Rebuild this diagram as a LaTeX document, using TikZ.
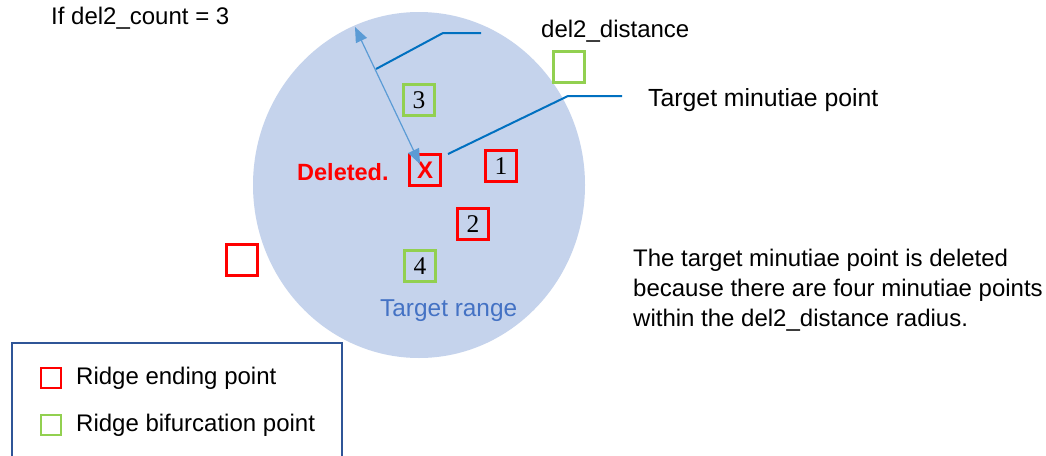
\documentclass[tikz,border=0pt]{standalone}
\usepackage{fontspec}
\setmainfont{Liberation Sans}
\newfontfamily\serifnum{Liberation Serif}
\usetikzlibrary{arrows.meta,shapes.geometric}
\definecolor{rangefill}{RGB}{197,211,236}
\definecolor{redpt}{RGB}{255,0,0}
\definecolor{greenpt}{RGB}{146,208,80}
\definecolor{arrowblue}{RGB}{91,155,213}
\definecolor{leaderblue}{RGB}{0,112,192}
\definecolor{rangetext}{RGB}{68,114,196}
\definecolor{legendframe}{RGB}{47,85,151}
\tikzset{
  txt/.style={font=\fontsize{24}{28}\selectfont, inner sep=0pt, anchor=west},
  ptbox/.style={draw, line width=3pt, minimum size=31pt, inner sep=0pt, font=\serifnum\fontsize{25.5}{28}\selectfont},
  endbox/.style={ptbox, draw=redpt},
  bifbox/.style={ptbox, draw=greenpt},
  legbox/.style={draw, line width=2pt, minimum size=20pt, inner sep=0pt},
  leader/.style={draw=leaderblue, line width=2pt},
}
\begin{document}
\begin{tikzpicture}[x=1pt,y=-1pt]
\useasboundingbox (0,0) rectangle (1046,455);
\fill[white] (0,0) rectangle (1046,455);
% target range
\node[ellipse, fill=rangefill, minimum width=332pt, minimum height=346pt, inner sep=0pt] (range) at (419,185) {};
\node[txt, text=rangetext, font=\fontsize{24.4}{28}\selectfont] (rangelbl) at (380,311) {Target range};
% points
\node[bifbox] (p3) at (419,100) {3};
\node[endbox, font=\bfseries\fontsize{24}{28}\selectfont, text=redpt] (px) at (425,170) {X};
\node[endbox] (p1) at (501,166) {1};
\node[endbox] (p2) at (473,224) {2};
\node[bifbox] (p4) at (420,266) {4};
\node[bifbox] (pout) at (569,67) {};
\node[endbox] (pout2) at (242,260) {};
% labels
\node[txt] (count) at (51,18) {If del2\_count = 3};
\node[txt] (dist) at (541,31) {del2\_distance};
\node[txt, font=\fontsize{24.8}{28}\selectfont] (target) at (648,100) {Target minutiae point};
\node[txt, text=redpt, font=\bfseries\fontsize{23.5}{28}\selectfont] (deleted) at (297,172) {Deleted.};
\node[txt, align=left, font=\fontsize{24}{30}\selectfont] (note) at (633,290) {The target minutiae point is deleted\\because there are four minutiae points\\within the del2\_distance radius.};
% radius arrow
\coordinate (rtop) at (355,27);
\coordinate (rbot) at (420,164);
\draw[arrowblue, line width=1.2pt, {Triangle[length=15pt,width=12pt]}-{Triangle[length=15pt,width=12pt]}] (rtop) -- (rbot);
% leader lines
\coordinate (l1a) at (376,69);
\coordinate (l1b) at (443,33);
\coordinate (l1c) at (481,33);
\draw[leader] (l1a) -- (l1b) -- (l1c);
\coordinate (l2a) at (448,154);
\coordinate (l2b) at (568,96);
\coordinate (l2c) at (622,96);
\draw[leader] (l2a) -- (l2b) -- (l2c);
% legend
\draw[legendframe, line width=2pt] (12,470) -- (12,343) -- (342,343) -- (342,470);
\node[legbox, draw=redpt] (legend1) at (51,378) {};
\node[txt] (legend1lbl) at (76,378) {Ridge ending point};
\node[legbox, draw=greenpt] (legend2) at (51,425) {};
\node[txt] (legend2lbl) at (76,425) {Ridge bifurcation point};
\end{tikzpicture}
\end{document}
